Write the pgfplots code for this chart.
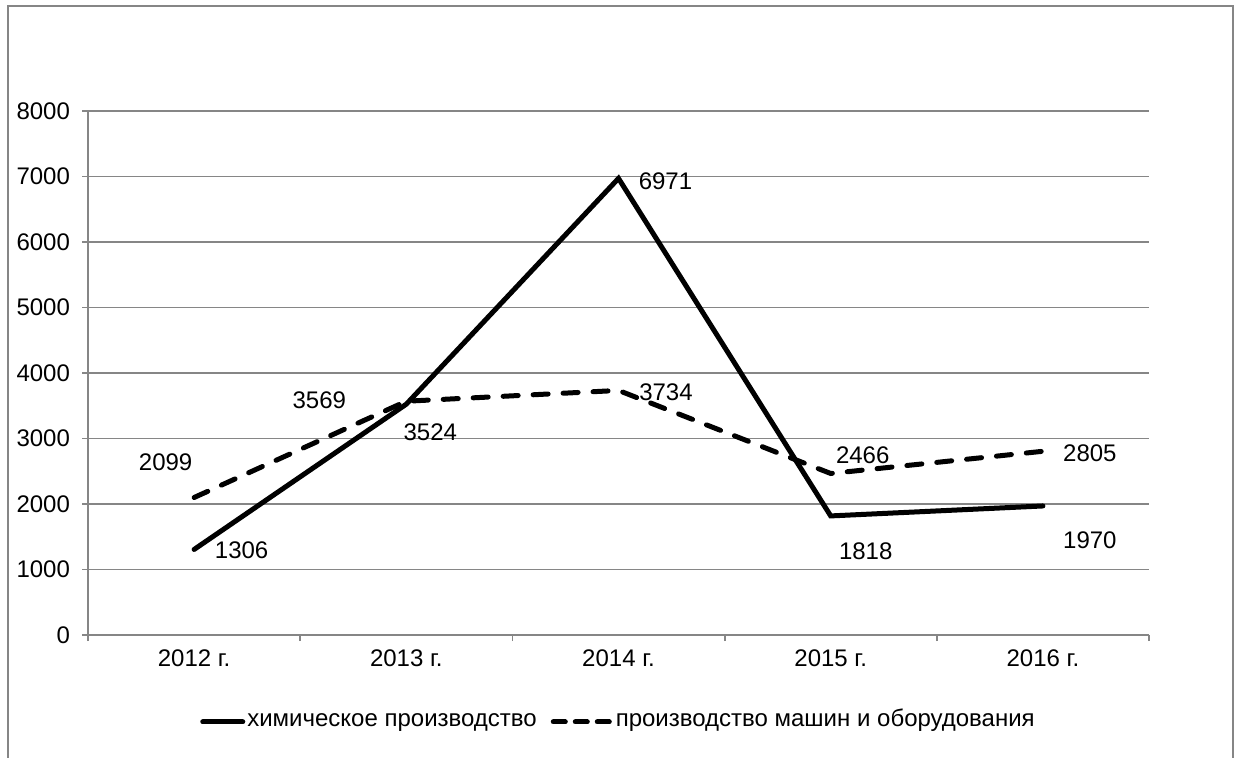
\documentclass[border=0pt]{standalone}
\usepackage{fontspec}
\setmainfont{Liberation Sans}
\usepackage{pgfplots}
\usepackage{pgfplotstable}
\pgfplotsset{compat=1.18}
\definecolor{axgray}{HTML}{868686}
\pgfkeys{/pgf/number format/.cd, 1000 sep={}}
\pgfplotsset{
  solidleg/.style={legend image code/.code={\draw[##1] (0pt,0pt) -- (20pt,0pt);}},
  dashleg/.style={legend image code/.code={\draw[##1, dash pattern=on 6pt off 5pt] (1pt,0pt) -- (30pt,0pt);}},
}

% x = category index, dx/dy = label offset in pt
\pgfplotstableread{
x y dx dy
0 1306 23.75 -0.5
1 3524 12 -14
2 6971 23.5 -1.5
3 1818 17.5 -17.5
4 1970 23.5 -17
}\chem
\pgfplotstableread{
x y dx dy
0 2099 -14.25 17.75
1 3569 -43.5 0.5
2 3734 23.75 -0.8
3 2466 16 9
4 2805 23.5 -0.85
}\mach

\begin{document}
\begin{tikzpicture}
\useasboundingbox (0pt,0pt) rectangle (617pt,-379pt);
\clip (0pt,0pt) rectangle (617pt,-379pt);
\draw[axgray, line width=1pt] (4pt,-3pt) rectangle (616.5pt,-400pt);
\begin{axis}[
    at={(44pt,-317.5pt)}, anchor=south west,
    width=530.5pt, height=262pt, scale only axis,
    xmin=-0.5, xmax=4.5, ymin=0, ymax=8000,
    axis x line*=bottom, axis y line*=left,
    axis line style={axgray, line width=0.9pt},
    ytick={0,1000,...,8000},
    ymajorgrids, grid style={axgray, line width=0.9pt},
    xtick={0,...,4},
    xticklabels={2012 г.,2013 г.,2014 г.,2015 г.,2016 г.},
    minor xtick={-0.5,0.5,...,4.5},
    tick align=outside, major tick length=3pt, minor tick length=3pt,
    tick style={axgray, line width=0.9pt},
    major x tick style={draw=none},
    tick label style={font=\fontsize{12}{14}\selectfont},
    y tick label style={xshift=-2.5pt},
    x tick label style={yshift=-1pt},
    /pgf/number format/assume math mode=true,
    scaled y ticks=false,
    no markers,
    nodes near coords,
    visualization depends on={\thisrow{dx}\as\dx},
    visualization depends on={\thisrow{dy}\as\dy},
    every node near coord/.append style={anchor=center, xshift=\dx, yshift=\dy,
        font=\fontsize{12}{14}\selectfont, text=black},
    legend columns=2,
    legend style={at={(0.5,-0.166)}, anchor=center, draw=none,
        font=\fontsize{12}{14}\selectfont,
        nodes={inner xsep=1pt, text height=0.75em, text depth=0.25em},
        /tikz/every even column/.append style={column sep=6pt}},
]
\addplot[black, line width=2.5pt, line cap=round, solidleg]
    table[x=x, y=y] {\chem};
\addlegendentry{химическое производство}
\addplot[black, line width=2.5pt, line cap=round, dash pattern=on 7.5pt off 7.5pt, dashleg]
    table[x=x, y=y] {\mach};
\addlegendentry{производство машин и оборудования}
\end{axis}
\end{tikzpicture}
\end{document}
